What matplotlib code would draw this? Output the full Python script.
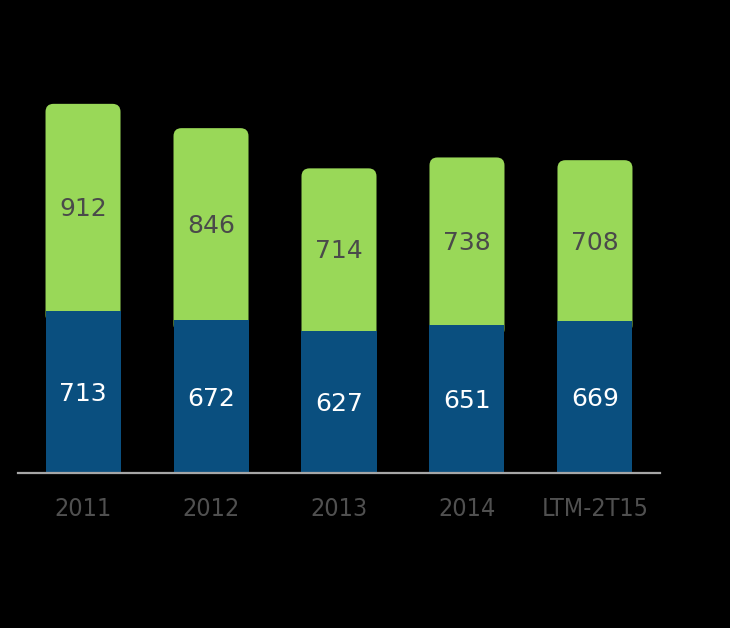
import matplotlib
matplotlib.use("Agg")
import matplotlib.pyplot as plt
from matplotlib.patches import FancyBboxPatch

categories = ["2011", "2012", "2013", "2014", "LTM-2T15"]
bottom_vals = [713, 672, 627, 651, 669]
top_vals = [912, 846, 714, 738, 708]

blue = "#0a4f7f"
green = "#99d858"

fig = plt.figure(figsize=(7.3, 6.28), dpi=100, facecolor="black")
ax = fig.add_axes([18/730, (628-473)/628, (660-18)/730, (473-50)/628])
ax.set_facecolor("black")

x = list(range(len(categories)))
width = 0.586
ax.set_xlim(-0.508, 4.508)
ax.set_ylim(0, 1862)

bars_b = ax.bar(x, bottom_vals, width=width, color=blue, zorder=3)
bars_g = ax.bar(x, top_vals, bottom=bottom_vals, width=width, color=green, zorder=1)

# rounded tops for green bars
x_per_px = (4.508 + 0.508) / (660 - 18)
y_per_px = 1862 / (473 - 50)
for b in bars_g:
    b.set_visible(False)
    bx, by, bw, bh = b.get_x(), b.get_y(), b.get_width(), b.get_height()
    start = by - 12 * y_per_px
    patch = FancyBboxPatch((bx, start), bw, by + bh - start,
                           boxstyle="round,pad=0,rounding_size=%f" % (8 * x_per_px),
                           mutation_aspect=y_per_px / x_per_px,
                           facecolor=green, edgecolor="none", zorder=2)
    ax.add_patch(patch)

for i in x:
    ax.text(i, bottom_vals[i] / 2 - 2 * y_per_px, str(bottom_vals[i]), ha="center", va="center",
            color="white", fontsize=18, family="DejaVu Sans", zorder=5)
    ax.text(i, bottom_vals[i] + top_vals[i] / 2 - 2 * y_per_px, str(top_vals[i]), ha="center", va="center",
            color="#4a4a4a", fontsize=18, family="DejaVu Sans", zorder=5)

for s in ["top", "right", "left"]:
    ax.spines[s].set_visible(False)
ax.spines["bottom"].set_color("#a6a6a6")
ax.spines["bottom"].set_linewidth(1.6)
ax.spines["bottom"].set_zorder(6)
ax.set_yticks([])
ax.set_xticks(x)
ax.set_xticklabels(categories, color="#505050", fontsize=18,
                   fontfamily="DejaVu Sans", fontstretch="condensed")
ax.tick_params(axis="x", length=0, pad=17)

fig.savefig("out.png", dpi=100, facecolor="black")
